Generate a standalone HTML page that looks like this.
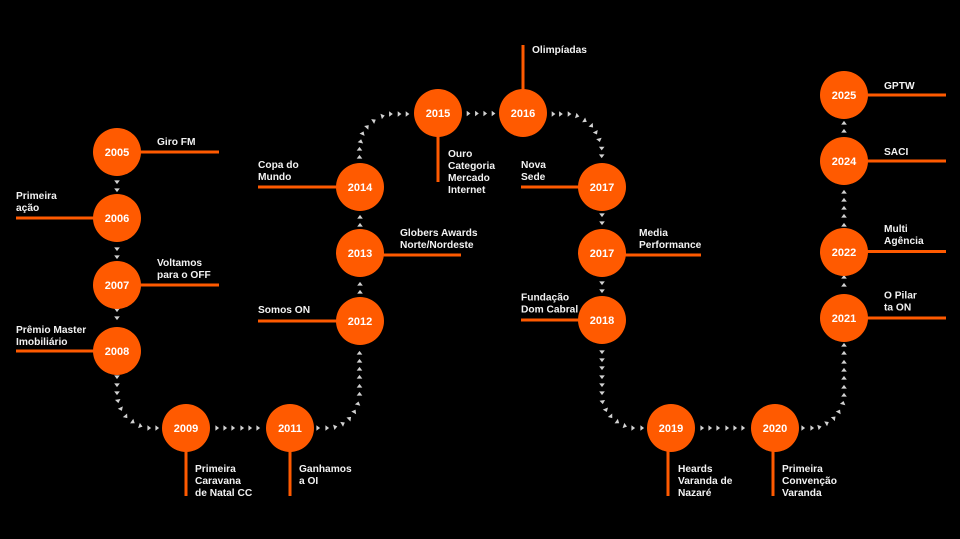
<!DOCTYPE html>
<html><head><meta charset="utf-8"><style>
html,body{margin:0;padding:0;background:#000;}
svg{display:block;}
.l{font-family:"Liberation Sans",Arial,sans-serif;font-weight:bold;font-size:10.2px;fill:#f2f2f2;}
.y{font-family:"Liberation Sans",Arial,sans-serif;font-weight:bold;font-size:11px;fill:#fff;text-anchor:middle;}
</style></head><body>
<svg width="960" height="539" viewBox="0 0 960 539" xmlns="http://www.w3.org/2000/svg">
<rect width="960" height="539" fill="#000"/>
<defs><polygon id="a" points="-1.6,-2.8 2.1,0 -1.6,2.8" fill="#d2d2d2"/></defs>
<g>
<!-- left column down -->
<use href="#a" transform="translate(117 182) rotate(90)"/>
<use href="#a" transform="translate(117 190) rotate(90)"/>
<use href="#a" transform="translate(117 249) rotate(90)"/>
<use href="#a" transform="translate(117 257) rotate(90)"/>
<use href="#a" transform="translate(117 310) rotate(90)"/>
<use href="#a" transform="translate(117 318) rotate(90)"/>
<use href="#a" transform="translate(117 377) rotate(90)"/>
<use href="#a" transform="translate(117 385) rotate(90)"/>
<use href="#a" transform="translate(117 393) rotate(90)"/>
<use href="#a" transform="translate(118 401) rotate(80)"/>
<use href="#a" transform="translate(121 409) rotate(65)"/>
<use href="#a" transform="translate(126 416.5) rotate(50)"/>
<use href="#a" transform="translate(133 422) rotate(35)"/>
<use href="#a" transform="translate(140.5 426) rotate(18)"/>
<use href="#a" transform="translate(149 428)"/>
<use href="#a" transform="translate(157 428)"/>
<!-- 2009 -> 2011 -->
<use href="#a" transform="translate(217 428)"/>
<use href="#a" transform="translate(225 428)"/>
<use href="#a" transform="translate(233 428)"/>
<use href="#a" transform="translate(242 428)"/>
<use href="#a" transform="translate(250 428)"/>
<use href="#a" transform="translate(258 428)"/>
<!-- 2011 -> 2012 -->
<use href="#a" transform="translate(318 428)"/>
<use href="#a" transform="translate(327 428)"/>
<use href="#a" transform="translate(335.3 426.9) rotate(-15)"/>
<use href="#a" transform="translate(343 423.5) rotate(-30)"/>
<use href="#a" transform="translate(349.6 418.4) rotate(-45)"/>
<use href="#a" transform="translate(354.5 411.5) rotate(-60)"/>
<use href="#a" transform="translate(358 403.5) rotate(-75)"/>
<use href="#a" transform="translate(359.5 394) rotate(-90)"/>
<use href="#a" transform="translate(359.5 386) rotate(-90)"/>
<use href="#a" transform="translate(359.5 377) rotate(-90)"/>
<use href="#a" transform="translate(359.5 369) rotate(-90)"/>
<use href="#a" transform="translate(359.5 361) rotate(-90)"/>
<use href="#a" transform="translate(359.5 353) rotate(-90)"/>
<!-- 2012->2013->2014 -->
<use href="#a" transform="translate(360 292) rotate(-90)"/>
<use href="#a" transform="translate(360 284) rotate(-90)"/>
<use href="#a" transform="translate(360 225) rotate(-90)"/>
<use href="#a" transform="translate(360 217) rotate(-90)"/>
<!-- 2014 -> 2015 -->
<use href="#a" transform="translate(359.5 157) rotate(-90)"/>
<use href="#a" transform="translate(359.5 149) rotate(-90)"/>
<use href="#a" transform="translate(360.7 141.3) rotate(-78)"/>
<use href="#a" transform="translate(362.7 133.3) rotate(-65)"/>
<use href="#a" transform="translate(367.3 126.7) rotate(-48)"/>
<use href="#a" transform="translate(374 120.7) rotate(-32)"/>
<use href="#a" transform="translate(382.7 116) rotate(-15)"/>
<use href="#a" transform="translate(390.7 114)"/>
<use href="#a" transform="translate(399.3 114)"/>
<use href="#a" transform="translate(407.3 114)"/>
<!-- 2015 -> 2016 -->
<use href="#a" transform="translate(468.3 113.5)"/>
<use href="#a" transform="translate(476.7 113.5)"/>
<use href="#a" transform="translate(485 113.5)"/>
<use href="#a" transform="translate(493.3 113.5)"/>
<!-- 2016 -> 2017 -->
<use href="#a" transform="translate(553.3 114)"/>
<use href="#a" transform="translate(560.7 114)"/>
<use href="#a" transform="translate(569.3 114)"/>
<use href="#a" transform="translate(577.3 116) rotate(15)"/>
<use href="#a" transform="translate(585 120.7) rotate(32)"/>
<use href="#a" transform="translate(591.7 126) rotate(48)"/>
<use href="#a" transform="translate(596 132.7) rotate(62)"/>
<use href="#a" transform="translate(599.3 140) rotate(76)"/>
<use href="#a" transform="translate(601.7 148.3) rotate(90)"/>
<use href="#a" transform="translate(601.7 156) rotate(90)"/>
<!-- 2017 -> 2018 -->
<use href="#a" transform="translate(602 215) rotate(90)"/>
<use href="#a" transform="translate(602 223) rotate(90)"/>
<use href="#a" transform="translate(602 283) rotate(90)"/>
<use href="#a" transform="translate(602 291) rotate(90)"/>
<!-- 2018 -> 2019 -->
<use href="#a" transform="translate(602 352) rotate(90)"/>
<use href="#a" transform="translate(602 360) rotate(90)"/>
<use href="#a" transform="translate(602 368) rotate(90)"/>
<use href="#a" transform="translate(602 377) rotate(90)"/>
<use href="#a" transform="translate(602 385) rotate(90)"/>
<use href="#a" transform="translate(602 393) rotate(90)"/>
<use href="#a" transform="translate(602.5 402) rotate(82)"/>
<use href="#a" transform="translate(606 410) rotate(68)"/>
<use href="#a" transform="translate(611 416.5) rotate(52)"/>
<use href="#a" transform="translate(617.5 422) rotate(36)"/>
<use href="#a" transform="translate(625 426) rotate(18)"/>
<use href="#a" transform="translate(633 428)"/>
<use href="#a" transform="translate(642 428)"/>
<!-- 2019 -> 2020 -->
<use href="#a" transform="translate(702 428)"/>
<use href="#a" transform="translate(710 428)"/>
<use href="#a" transform="translate(718 428)"/>
<use href="#a" transform="translate(727 428)"/>
<use href="#a" transform="translate(735 428)"/>
<use href="#a" transform="translate(743 428)"/>
<!-- 2020 -> 2021 -->
<use href="#a" transform="translate(803 428)"/>
<use href="#a" transform="translate(812 428)"/>
<use href="#a" transform="translate(819.5 427) rotate(-15)"/>
<use href="#a" transform="translate(827 423) rotate(-30)"/>
<use href="#a" transform="translate(834 418) rotate(-45)"/>
<use href="#a" transform="translate(839 411.5) rotate(-60)"/>
<use href="#a" transform="translate(843 403) rotate(-76)"/>
<use href="#a" transform="translate(844 395) rotate(-90)"/>
<use href="#a" transform="translate(844 387) rotate(-90)"/>
<use href="#a" transform="translate(844 378) rotate(-90)"/>
<use href="#a" transform="translate(844 370) rotate(-90)"/>
<use href="#a" transform="translate(844 362) rotate(-90)"/>
<use href="#a" transform="translate(844 353) rotate(-90)"/>
<use href="#a" transform="translate(844 345) rotate(-90)"/>
<!-- right column up -->
<use href="#a" transform="translate(844 285) rotate(-90)"/>
<use href="#a" transform="translate(844 277) rotate(-90)"/>
<use href="#a" transform="translate(844 225) rotate(-90)"/>
<use href="#a" transform="translate(844 216) rotate(-90)"/>
<use href="#a" transform="translate(844 208) rotate(-90)"/>
<use href="#a" transform="translate(844 200) rotate(-90)"/>
<use href="#a" transform="translate(844 192) rotate(-90)"/>
<use href="#a" transform="translate(844 131) rotate(-90)"/>
<use href="#a" transform="translate(844 123) rotate(-90)"/>
</g>

<g stroke="#ff5a00" stroke-width="3" fill="none">
<line x1="117" y1="152" x2="219" y2="152"/>
<line x1="16" y1="218" x2="117" y2="218"/>
<line x1="117" y1="285" x2="219" y2="285"/>
<line x1="16" y1="351" x2="117" y2="351"/>
<line x1="186" y1="428" x2="186" y2="496"/>
<line x1="290" y1="428" x2="290" y2="496"/>
<line x1="258" y1="321" x2="360" y2="321"/>
<line x1="360" y1="255" x2="461" y2="255"/>
<line x1="258" y1="187" x2="360" y2="187"/>
<line x1="438" y1="113" x2="438" y2="182"/>
<line x1="523" y1="45" x2="523" y2="113"/>
<line x1="521" y1="187" x2="602" y2="187"/>
<line x1="602" y1="255" x2="701" y2="255"/>
<line x1="521" y1="320" x2="602" y2="320"/>
<line x1="668" y1="428" x2="668" y2="496"/>
<line x1="773" y1="428" x2="773" y2="496"/>
<line x1="844" y1="318" x2="946" y2="318"/>
<line x1="844" y1="251.5" x2="946" y2="251.5"/>
<line x1="844" y1="161" x2="946" y2="161"/>
<line x1="844" y1="95" x2="946" y2="95"/>
</g>

<g fill="#ff5a00">
<circle cx="117" cy="152" r="24"/>
<circle cx="117" cy="218" r="24"/>
<circle cx="117" cy="285" r="24"/>
<circle cx="117" cy="351" r="24"/>
<circle cx="186" cy="428" r="24"/>
<circle cx="290" cy="428" r="24"/>
<circle cx="360" cy="321" r="24"/>
<circle cx="360" cy="253" r="24"/>
<circle cx="360" cy="187" r="24"/>
<circle cx="438" cy="113" r="24"/>
<circle cx="523" cy="113" r="24"/>
<circle cx="602" cy="187" r="24"/>
<circle cx="602" cy="253" r="24"/>
<circle cx="602" cy="320" r="24"/>
<circle cx="671" cy="428" r="24"/>
<circle cx="775" cy="428" r="24"/>
<circle cx="844" cy="318" r="24"/>
<circle cx="844" cy="252" r="24"/>
<circle cx="844" cy="161" r="24"/>
<circle cx="844" cy="95" r="24"/>
</g>

<g class="y">
<text x="117" y="156">2005</text>
<text x="117" y="222">2006</text>
<text x="117" y="289">2007</text>
<text x="117" y="355">2008</text>
<text x="186" y="432">2009</text>
<text x="290" y="432">2011</text>
<text x="360" y="325">2012</text>
<text x="360" y="257">2013</text>
<text x="360" y="191">2014</text>
<text x="438" y="117">2015</text>
<text x="523" y="117">2016</text>
<text x="602" y="191">2017</text>
<text x="602" y="257">2017</text>
<text x="602" y="324">2018</text>
<text x="671" y="432">2019</text>
<text x="775" y="432">2020</text>
<text x="844" y="322">2021</text>
<text x="844" y="256">2022</text>
<text x="844" y="165">2024</text>
<text x="844" y="99">2025</text>
</g>

<g class="l">
<text x="157" y="145">Giro FM</text>
<text x="16" y="199">Primeira</text>
<text x="16" y="211">ação</text>
<text x="157" y="266">Voltamos</text>
<text x="157" y="278">para o OFF</text>
<text x="16" y="333">Prêmio Master</text>
<text x="16" y="345">Imobiliário</text>
<text x="195" y="472">Primeira</text>
<text x="195" y="484">Caravana</text>
<text x="195" y="496">de Natal CC</text>
<text x="299" y="472">Ganhamos</text>
<text x="299" y="484">a OI</text>
<text x="258" y="313">Somos ON</text>
<text x="400" y="236">Globers Awards</text>
<text x="400" y="248">Norte/Nordeste</text>
<text x="258" y="168">Copa do</text>
<text x="258" y="180">Mundo</text>
<text x="448" y="157">Ouro</text>
<text x="448" y="169">Categoria</text>
<text x="448" y="181">Mercado</text>
<text x="448" y="193">Internet</text>
<text x="532" y="53">Olimpíadas</text>
<text x="521" y="168">Nova</text>
<text x="521" y="180">Sede</text>
<text x="639" y="236">Media</text>
<text x="639" y="248">Performance</text>
<text x="521" y="300.5">Fundação</text>
<text x="521" y="312.5">Dom Cabral</text>
<text x="678" y="472">Heards</text>
<text x="678" y="484">Varanda de</text>
<text x="678" y="496">Nazaré</text>
<text x="782" y="472">Primeira</text>
<text x="782" y="484">Convenção</text>
<text x="782" y="496">Varanda</text>
<text x="884" y="298.5">O Pilar</text>
<text x="884" y="310.5">ta ON</text>
<text x="884" y="232">Multi</text>
<text x="884" y="244">Agência</text>
<text x="884" y="155">SACI</text>
<text x="884" y="89">GPTW</text>
</g>
</svg>
</body></html>
